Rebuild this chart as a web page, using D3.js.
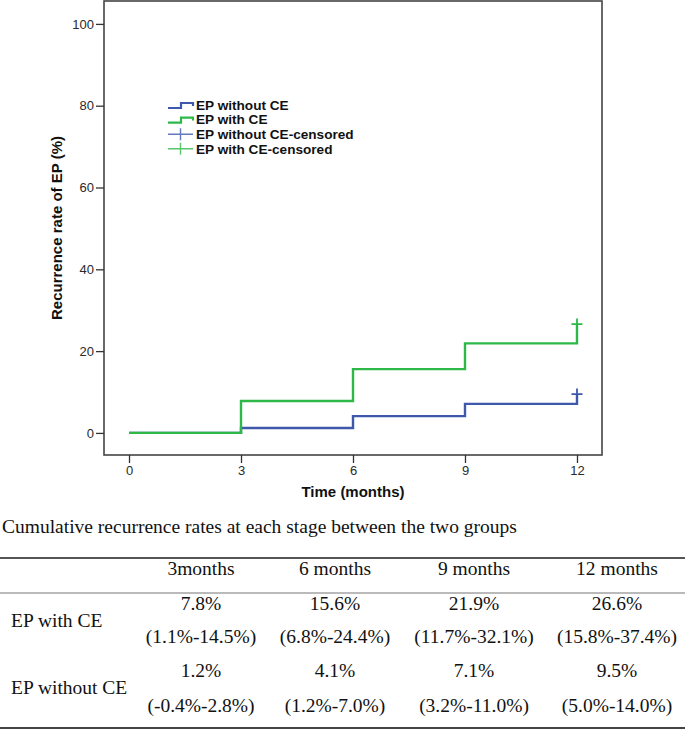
<!DOCTYPE html>
<html>
<head>
<meta charset="utf-8">
<script src="https://cdn.jsdelivr.net/npm/d3@7"></script>
<style>
  html, body { margin: 0; padding: 0; background: #fff; }
  svg { display: block; }
</style>
</head>
<body>
<svg id="chart" width="685" height="730"></svg>
<script>
// ---- data ----
const months = [0, 3, 6, 9, 12];
const withCE = [0, 7.8, 15.6, 21.9, 26.6];
const withoutCE = [0, 1.2, 4.1, 7.1, 9.5];
const yTicks = [0, 20, 40, 60, 80, 100];
const xTicks = [0, 3, 6, 9, 12];
const legendLabels = ["EP without CE", "EP with CE", "EP without CE-censored", "EP with CE-censored"];

const tableTitle = "Cumulative recurrence rates at each stage between the two groups";
const tableHeaders = ["3months", "6 months", "9 months", "12 months"];
const rowLabels = ["EP with CE", "EP without CE"];
const withCERates = ["7.8%", "15.6%", "21.9%", "26.6%"];
const withCECI = ["(1.1%-14.5%)", "(6.8%-24.4%)", "(11.7%-32.1%)", "(15.8%-37.4%)"];
const withoutCERates = ["1.2%", "4.1%", "7.1%", "9.5%"];
const withoutCECI = ["(-0.4%-2.8%)", "(1.2%-7.0%)", "(3.2%-11.0%)", "(5.0%-14.0%)"];

// ---- setup ----
const svg = d3.select("#chart");
const BLUE = "#3E58AC", GREEN = "#2EB848";
const sans = "'Liberation Sans', Arial, sans-serif";
const serif = "'Liberation Serif', 'Times New Roman', serif";

const x = d3.scaleLinear().domain([-0.67, 12.67]).range([104, 602]);
const y = d3.scaleLinear().domain([-5.4, 105.6]).range([455, 1]);

// frame
svg.append("rect")
  .attr("x", 104).attr("y", 1).attr("width", 498).attr("height", 454)
  .attr("fill", "none").attr("stroke", "#444").attr("stroke-width", 1.6);

// axes
const yAxis = d3.axisLeft(y).tickValues(yTicks).tickSize(8).tickPadding(2);
const gy = svg.append("g").attr("transform", "translate(104,0)").call(yAxis);
const xAxis = d3.axisBottom(x).tickValues(xTicks).tickSize(8).tickPadding(3);
const gx = svg.append("g").attr("transform", "translate(0,455)").call(xAxis);
[gx, gy].forEach(g => {
  g.attr("font-size", null).attr("font-family", null);
  g.select(".domain").remove();
  g.selectAll(".tick line").attr("stroke", "#333").attr("stroke-width", 1.3);
  g.selectAll(".tick text").attr("fill", "#2a2a2a")
    .attr("font-family", sans).attr("font-size", 13);
});

// axis titles
svg.append("text")
  .attr("x", 353).attr("y", 497)
  .attr("text-anchor", "middle")
  .style("font-family", sans).style("font-weight", "bold").style("font-size", "15px")
  .attr("fill", "#111")
  .text("Time (months)");
svg.append("text")
  .attr("transform", "translate(62,228) rotate(-90)")
  .attr("text-anchor", "middle")
  .style("font-family", sans).style("font-weight", "bold").style("font-size", "15px")
  .attr("fill", "#111")
  .text("Recurrence rate of EP (%)");

// step lines
const line = d3.line().x(d => x(d[0])).y(d => y(d[1])).curve(d3.curveStepAfter);
const series = [
  { vals: withoutCE, color: BLUE },
  { vals: withCE, color: GREEN }
];
series.forEach(s => {
  const pts = months.map((m, i) => [m, s.vals[i]]);
  svg.append("path").attr("d", line(pts))
    .attr("fill", "none").attr("stroke", s.color).attr("stroke-width", 2.4);
  // censored mark at last point
  const cx = x(months[months.length - 1]), cy = y(s.vals[s.vals.length - 1]);
  svg.append("path")
    .attr("d", `M${cx - 5.5},${cy}H${cx + 5.5}M${cx},${cy - 5.5}V${cy + 5.5}`)
    .attr("stroke", s.color).attr("stroke-width", 1.8).attr("fill", "none");
});

// legend
const legColors = [BLUE, GREEN, BLUE, GREEN];
const lg = svg.append("g");
legendLabels.forEach((lab, i) => {
  const cy = 105 + i * 14.6;
  if (i < 2) {
    lg.append("path")
      .attr("d", `M168,${cy + 3}H181V${cy - 2}H193V${cy + 1}`)
      .attr("fill", "none").attr("stroke", legColors[i]).attr("stroke-width", 2.2);
  } else {
    lg.append("path")
      .attr("d", `M168,${cy}H193M180.5,${cy - 6}V${cy + 6}`)
      .attr("fill", "none").attr("stroke", legColors[i]).attr("stroke-width", 1.4).attr("opacity", 0.8);
  }
  lg.append("text")
    .attr("x", 196).attr("y", cy + 4.8)
    .style("font-family", sans).style("font-weight", "bold").style("font-size", "13.6px")
    .attr("fill", "#111")
    .text(lab);
});

// ---- table ----
const colX = [201, 335, 474, 617];
svg.append("text")
  .attr("x", 2).attr("y", 533)
  .style("font-family", serif).style("font-size", "19.5px").attr("fill", "#111")
  .text(tableTitle);

function rule(yy, w, c) {
  svg.append("line").attr("x1", 0).attr("x2", 685).attr("y1", yy).attr("y2", yy)
    .attr("stroke", c).attr("stroke-width", w);
}
rule(558, 1.8, "#555");
rule(593, 1.2, "#777");
rule(728, 2.2, "#444");

function cell(txt, xx, yy, anchor) {
  svg.append("text").attr("x", xx).attr("y", yy)
    .attr("text-anchor", anchor || "middle")
    .style("font-family", serif).style("font-size", "19.5px").attr("fill", "#111")
    .text(txt);
}
tableHeaders.forEach((h, i) => cell(h, colX[i], 575));
cell(rowLabels[0], 11, 627, "start");
cell(rowLabels[1], 11, 694, "start");
withCERates.forEach((v, i) => cell(v, colX[i], 610));
withCECI.forEach((v, i) => cell(v, colX[i], 643));
withoutCERates.forEach((v, i) => cell(v, colX[i], 677));
withoutCECI.forEach((v, i) => cell(v, colX[i], 712));
</script>
</body>
</html>
